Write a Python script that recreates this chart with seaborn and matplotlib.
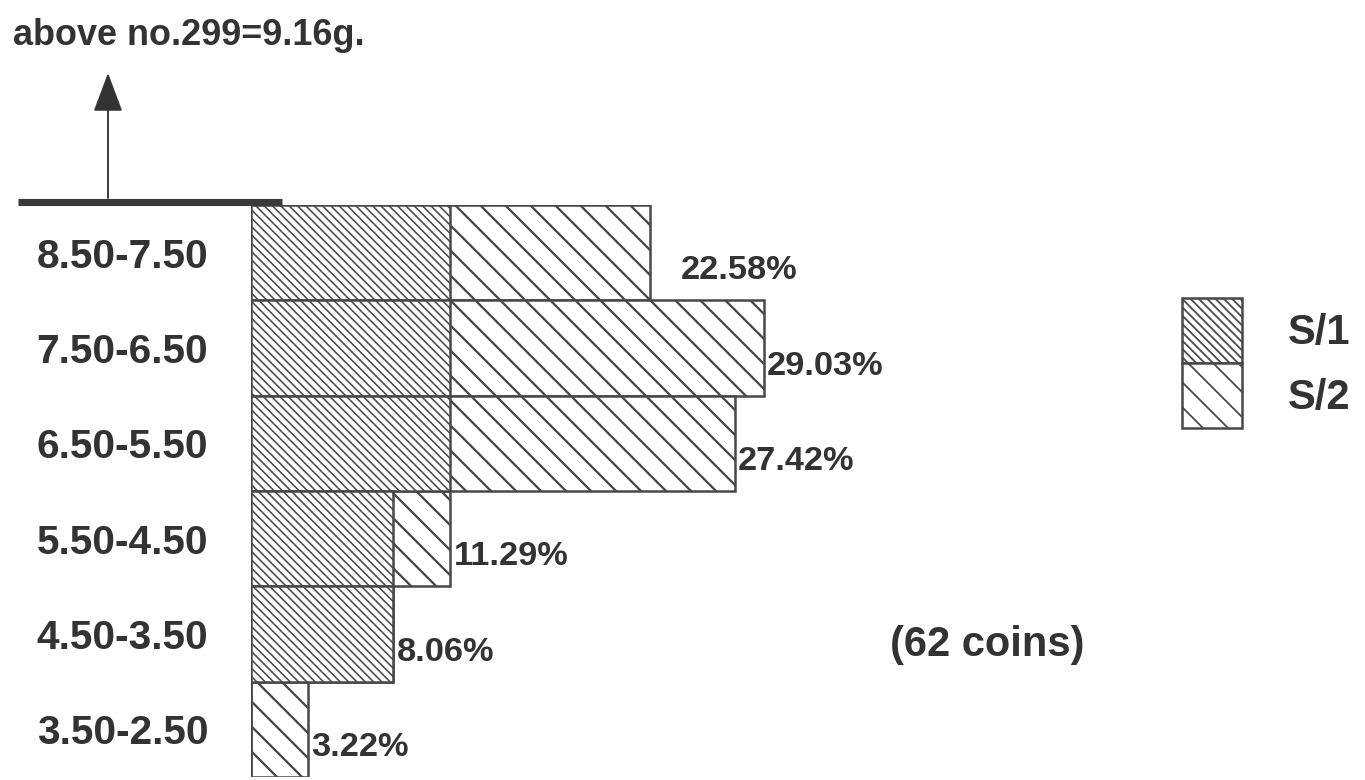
import matplotlib
matplotlib.use('Agg')
import matplotlib.pyplot as plt
import seaborn as sns
import pandas as pd
from matplotlib.patches import Patch
from matplotlib.lines import Line2D

# weight classes (g), top to bottom, and share of the 62 coins (%)
weights = ['8.50-7.50', '7.50-6.50', '6.50-5.50', '5.50-4.50', '4.50-3.50', '3.50-2.50']
s1_pct = [11.29, 11.29, 11.29, 8.06, 8.06, 0.0]
s2_pct = [11.29, 17.74, 16.13, 3.23, 0.0, 3.22]
pct_labels = ['22.58%', '29.03%', '27.42%', '11.29%', '8.06%', '3.22%']
series_names = ['S/1', 'S/2']
n_coins = 62
note = 'above no.299=9.16g.'

sns.set_style('white')
plt.rcParams['font.family'] = ['Liberation Sans', 'DejaVu Sans']
plt.rcParams['font.weight'] = 'bold'

ink = '#333333'
edge = '#484848'
hatch_s1 = '\\' * 6
hatch_s2 = '\\' * 2
lw_s1 = 0.75
lw_s2 = 1.1

df = pd.DataFrame({'weight': weights, 's1': s1_pct, 's2': s2_pct})
df['total'] = df['s1'] + df['s2']

W, H = 1365, 780
fig = plt.figure(figsize=(9.1, 5.2), dpi=150)
ax = fig.add_axes([251 / W, 3 / H, 1114 / W, 572 / H])

# stacked bars: full bar with the S/2 hatch, S/1 part drawn over it
plt.rcParams['hatch.linewidth'] = lw_s2
sns.barplot(data=df, x='total', y='weight', orient='h', color='white', saturation=1,
            width=1, edgecolor=edge, linewidth=1.2, hatch=hatch_s2, errorbar=None, ax=ax)
plt.rcParams['hatch.linewidth'] = lw_s1
sns.barplot(data=df, x='s1', y='weight', orient='h', color='white', saturation=1,
            width=1, edgecolor=edge, linewidth=1.2, hatch=hatch_s1, errorbar=None, ax=ax)

ax.set_xlim(0, 63.1)
ax.set_ylim(5.5, -0.5)
ax.set_xticks([])
ax.set_xlabel('')
ax.set_ylabel('')
ax.tick_params(axis='y', length=0, pad=20.6, labelsize=19.5, labelcolor=ink)
sns.despine(ax=ax, left=True, bottom=True)

for i, lab in enumerate(pct_labels):
    pad = 15 if i == 0 else 1.5
    ax.annotate(lab, (df['total'][i], i + 0.19), xytext=(pad, 0), textcoords='offset points',
                va='center', ha='left', fontsize=16.5, color=ink)

# legend swatches take the hatch width in force when the legend is built
plt.rcParams['hatch.linewidth'] = 0.85
handles = [Patch(facecolor='white', edgecolor=edge, hatch=hatch_s1, linewidth=1.2, label=series_names[0]),
           Patch(facecolor='white', edgecolor=edge, hatch=hatch_s2, linewidth=1.2, label=series_names[1])]
fig.legend(handles=handles, loc='upper left', bbox_to_anchor=(1182 / W, 1 - 298 / H),
           frameon=False, fontsize=20, handlelength=1.44, handleheight=2.02,
           handletextpad=1.1, labelspacing=0, borderpad=0, borderaxespad=0, labelcolor=ink)

fig.text(890 / W, 1 - 645 / H, f'({n_coins} coins)', va='center', ha='left', fontsize=20, color=ink)
fig.text(13 / W, 1 - 45 / H, note, va='baseline', ha='left', fontsize=17.3, color=ink)

# thick rule above the bars and the arrow pointing up
fig.add_artist(Line2D([18 / W, 282 / W], [1 - 202 / H] * 2, transform=fig.transFigure,
                      lw=3.4, color='#3a3a3a', solid_capstyle='butt'))
ax.annotate('', xy=(108 / W, 1 - 73 / H), xytext=(108 / W, 1 - 198 / H),
            xycoords='figure fraction', textcoords='figure fraction',
            arrowprops=dict(arrowstyle='-|>,head_length=0.4,head_width=0.15', mutation_scale=41,
                            color=ink, lw=0.9, shrinkA=0, shrinkB=0))

fig.savefig('out.png', dpi=150)
